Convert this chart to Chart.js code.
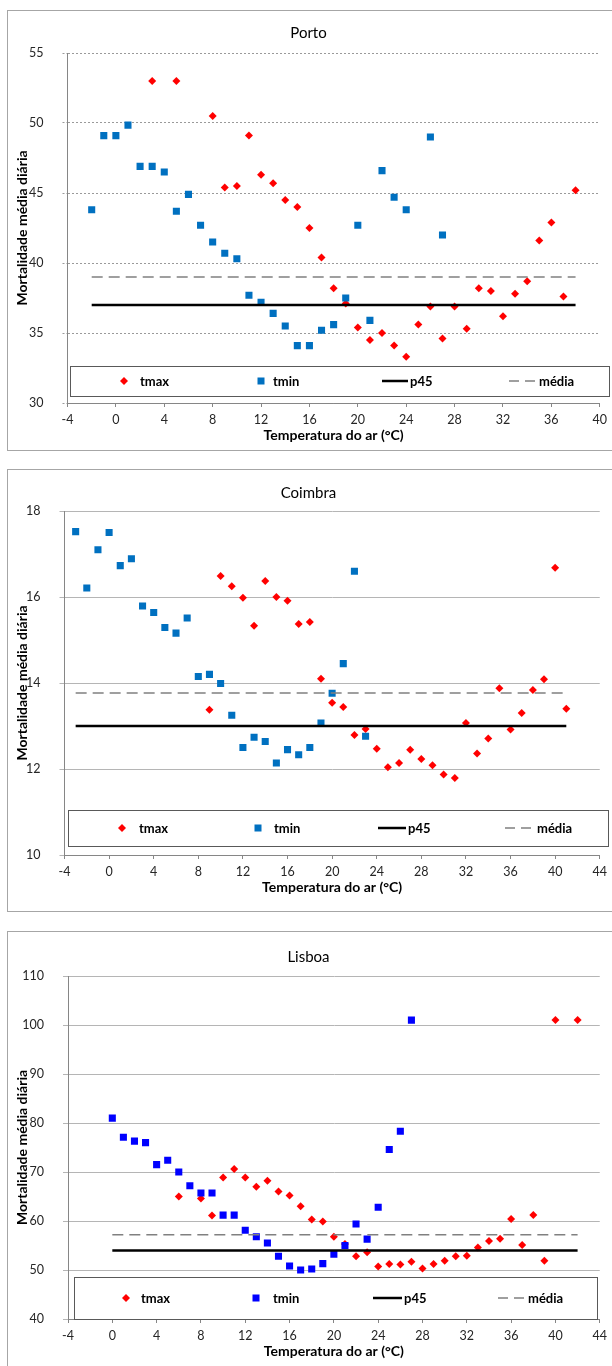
<!DOCTYPE html>
<html>
<head>
<meta charset="utf-8">
<script src="https://cdn.jsdelivr.net/npm/chart.js@4.4.1/dist/chart.umd.min.js"></script>
<style>
  html, body { margin: 0; padding: 0; background: #fff; }
  body { width: 612px; height: 1366px; overflow: hidden; position: relative; }
  .panel { position: absolute; left: 7px; width: 640px; border: 1px solid #a6a6a6; background: #fff; }
  .panel canvas { position: absolute; left: 0; top: 0; }
</style>
</head>
<body>
<div class="panel" style="top:10px;height:439px"><canvas id="cPorto" width="604" height="439"></canvas></div>
<div class="panel" style="top:469px;height:441px"><canvas id="cCoimbra" width="604" height="441"></canvas></div>
<div class="panel" style="top:931px;height:500px"><canvas id="cLisboa" width="604" height="434"></canvas></div>
<script>
// Porto
const portoTmaxTemp = [3, 5, 8, 9, 10, 11, 12, 13, 14, 15, 16, 17, 18, 19, 20, 21, 22, 23, 24, 25, 26, 27, 28, 29, 30, 31, 32, 33, 34, 35, 36, 37, 38];
const portoTmaxMort = [53.0, 53.0, 50.5, 45.4, 45.5, 49.1, 46.3, 45.7, 44.5, 44.0, 42.5, 40.4, 38.2, 37.1, 35.4, 34.5, 35.0, 34.1, 33.3, 35.6, 36.9, 34.6, 36.9, 35.3, 38.2, 38.0, 36.2, 37.8, 38.7, 41.6, 42.9, 37.6, 45.2];
const portoTminTemp = [-2, -1, 0, 1, 2, 3, 4, 5, 6, 7, 8, 9, 10, 11, 12, 13, 14, 15, 16, 17, 18, 19, 20, 21, 22, 23, 24, 26, 27];
const portoTminMort = [43.8, 49.1, 49.1, 49.85, 46.9, 46.9, 46.5, 43.7, 44.9, 42.7, 41.5, 40.7, 40.3, 37.7, 37.2, 36.4, 35.5, 34.1, 34.1, 35.2, 35.6, 37.5, 42.7, 35.9, 46.6, 44.7, 43.8, 49.0, 42.0];
const portoP45 = 37.0;
const portoMedia = 39.0;

// Coimbra
const coimbraTmaxTemp = [9, 10, 11, 12, 13, 14, 15, 16, 17, 18, 19, 20, 21, 22, 23, 24, 25, 26, 27, 28, 29, 30, 31, 32, 33, 34, 35, 36, 37, 38, 39, 40, 41];
const coimbraTmaxMort = [13.38, 16.49, 16.25, 15.98, 15.33, 16.37, 16.0, 15.91, 15.37, 15.42, 14.1, 13.54, 13.44, 12.79, 12.93, 12.47, 12.04, 12.14, 12.45, 12.23, 12.09, 11.87, 11.79, 13.07, 12.36, 12.71, 13.88, 12.92, 13.30, 13.84, 14.09, 16.68, 13.40];
const coimbraTminTemp = [-3, -2, -1, 0, 1, 2, 3, 4, 5, 6, 7, 8, 9, 10, 11, 12, 13, 14, 15, 16, 17, 18, 19, 20, 21, 22, 23];
const coimbraTminMort = [17.52, 16.21, 17.10, 17.50, 16.73, 16.89, 15.79, 15.64, 15.29, 15.16, 15.51, 14.15, 14.2, 13.99, 13.25, 12.50, 12.74, 12.64, 12.14, 12.45, 12.33, 12.50, 13.07, 13.76, 14.45, 16.60, 12.76];
const coimbraP45 = 13.0;
const coimbraMedia = 13.77;

// Lisboa
const lisboaTmaxTemp = [6, 8, 9, 10, 11, 12, 13, 14, 15, 16, 17, 18, 19, 20, 21, 22, 23, 24, 25, 26, 27, 28, 29, 30, 31, 32, 33, 34, 35, 36, 37, 38, 39, 40, 42];
const lisboaTmaxMort = [65.0, 64.6, 61.1, 68.9, 70.6, 68.9, 67.0, 68.2, 66.0, 65.2, 63.0, 60.3, 59.9, 56.8, 55.3, 52.8, 53.6, 50.7, 51.2, 51.1, 51.7, 50.3, 51.2, 51.9, 52.8, 52.9, 54.6, 55.9, 56.4, 60.4, 55.1, 61.2, 51.9, 101.0, 101.0];
const lisboaTminTemp = [0, 1, 2, 3, 4, 5, 6, 7, 8, 9, 10, 11, 12, 13, 14, 15, 16, 17, 18, 19, 20, 21, 22, 23, 24, 25, 26, 27];
const lisboaTminMort = [81.0, 77.1, 76.3, 76.0, 71.5, 72.4, 70.0, 67.2, 65.7, 65.7, 61.2, 61.2, 58.1, 56.8, 55.5, 52.8, 50.8, 50.0, 50.2, 51.3, 53.2, 55.0, 59.4, 56.3, 62.8, 74.6, 78.3, 101.0];
const lisboaP45 = 54.0;
const lisboaMedia = 57.2;

const seriesNames = ['tmax', 'tmin', 'p45', 'média'];
const xTitle = 'Temperatura do ar (°C)';
const yTitle = 'Mortalidade média diária';

Chart.defaults.font.family = 'Lato, "Liberation Sans", sans-serif';
Chart.defaults.color = '#262626';

// legenda desenhada dentro da área do gráfico, com caixa
const legendBox = {
    id: 'legendBox',
    afterDatasetsDraw(chart, args, opts) {
        const ctx = chart.ctx;
        const [x0, y0, x1, y1] = opts.box;
        const cy = (y0 + y1) / 2;
        ctx.save();
        ctx.fillStyle = '#fff';
        ctx.fillRect(x0, y0, x1 - x0, y1 - y0);
        ctx.strokeStyle = '#595959';
        ctx.lineWidth = 1;
        ctx.strokeRect(Math.round(x0) + 0.5, Math.round(y0) + 0.5, Math.round(x1 - x0), Math.round(y1 - y0));

        // tmax
        ctx.fillStyle = '#FF0000';
        ctx.beginPath();
        ctx.moveTo(opts.tmax - 4, cy);
        ctx.lineTo(opts.tmax, cy - 4);
        ctx.lineTo(opts.tmax + 4, cy);
        ctx.lineTo(opts.tmax, cy + 4);
        ctx.closePath();
        ctx.fill();
        // tmin
        ctx.fillStyle = opts.tminColor;
        ctx.fillRect(opts.tmin - 3.5, cy - 3.5, 7, 7);
        // p45
        ctx.strokeStyle = '#000';
        ctx.lineWidth = 2.5;
        ctx.beginPath();
        ctx.moveTo(opts.p45[0], cy);
        ctx.lineTo(opts.p45[1], cy);
        ctx.stroke();
        // média
        ctx.strokeStyle = '#808080';
        ctx.lineWidth = 1.5;
        ctx.setLineDash([10, 6]);
        ctx.beginPath();
        ctx.moveTo(opts.media[0], cy);
        ctx.lineTo(opts.media[1], cy);
        ctx.stroke();
        ctx.setLineDash([]);

        ctx.fillStyle = '#000';
        ctx.font = 'bold 13px Lato, "Liberation Sans", sans-serif';
        ctx.textBaseline = 'middle';
        ctx.textAlign = 'left';
        opts.text.forEach((x, i) => ctx.fillText(seriesNames[i], x, cy + 1));
        ctx.restore();
    }
};

function toPoints(temps, morts) {
    return temps.map((t, i) => ({ x: t, y: morts[i] }));
}

function makeChart(id, c) {
    const lo = Math.min(...c.tminTemp);
    const hi = Math.max(...c.tmaxTemp);
    return new Chart(document.getElementById(id), {
        type: 'scatter',
        data: {
            datasets: [
                {
                    label: seriesNames[0],
                    data: toPoints(c.tmaxTemp, c.tmaxMort),
                    pointStyle: 'rectRot',
                    pointRadius: 4,
                    pointBorderWidth: 0,
                    backgroundColor: '#FF0000',
                    order: 4
                },
                {
                    label: seriesNames[1],
                    data: toPoints(c.tminTemp, c.tminMort),
                    pointStyle: 'rect',
                    pointRadius: 5,
                    pointBorderWidth: 0,
                    backgroundColor: c.tminColor,
                    order: 3
                },
                {
                    label: seriesNames[2],
                    data: [{ x: lo, y: c.p45 }, { x: hi, y: c.p45 }],
                    showLine: true,
                    borderColor: '#000',
                    borderWidth: 2.5,
                    pointRadius: 0,
                    order: 2
                },
                {
                    label: seriesNames[3],
                    data: [{ x: lo, y: c.media }, { x: hi, y: c.media }],
                    showLine: true,
                    borderColor: '#808080',
                    borderWidth: 1.5,
                    borderDash: [11, 6],
                    pointRadius: 0,
                    order: 1
                }
            ]
        },
        options: {
            responsive: false,
            animation: false,
            events: [],
            layout: { padding: { left: 6, right: 9, top: 0, bottom: 0 } },
            plugins: {
                legend: { display: false },
                tooltip: { enabled: false },
                title: {
                    display: true,
                    text: c.title,
                    color: '#000',
                    font: { size: 15, weight: 'normal' },
                    padding: c.titlePad
                },
                legendBox: c.legend
            },
            scales: {
                x: {
                    type: 'linear',
                    min: c.xMin,
                    max: c.xMax,
                    ticks: { stepSize: 4, autoSkip: false, maxRotation: 0, padding: 5, font: { size: 12.5 } },
                    grid: { drawOnChartArea: false, drawTicks: true, tickLength: 4, color: '#868686' },
                    border: { display: true, color: '#868686', width: 1 },
                    title: {
                        display: true,
                        text: xTitle,
                        color: '#000',
                        font: { size: 14, weight: 'bold' },
                        padding: { top: 0, bottom: c.xTitlePad }
                    },
                    afterFit: s => { s.height = c.xHeight; }
                },
                y: {
                    type: 'linear',
                    min: c.yMin,
                    max: c.yMax,
                    ticks: { stepSize: c.yStep, padding: 19, font: { size: 12.5 } },
                    grid: {
                        color: c.gridColor,
                        tickColor: c.gridColor,
                        tickLength: 5,
                        tickBorderDash: c.gridDash
                    },
                    border: { display: true, color: '#868686', width: 1, dash: c.gridDash },
                    title: {
                        display: true,
                        text: yTitle,
                        color: '#000',
                        font: { size: 14, weight: 'bold' },
                        padding: { top: 0, bottom: 0 }
                    },
                    afterFit: s => { s.width = c.yWidth; }
                }
            }
        },
        plugins: [legendBox]
    });
}

makeChart('cPorto', {
    title: 'Porto',
    titlePad: { top: 13, bottom: 11 },
    tmaxTemp: portoTmaxTemp, tmaxMort: portoTmaxMort,
    tminTemp: portoTminTemp, tminMort: portoTminMort,
    p45: portoP45, media: portoMedia,
    tminColor: '#0070C0',
    xMin: -4, xMax: 40, yMin: 30, yMax: 55, yStep: 5,
    gridColor: '#9a9a9a', gridDash: [2, 2],
    xHeight: 47, xTitlePad: 6, yWidth: 53.5,
    legend: { box: [62, 355, 601, 385], tmax: 116, tmin: 253, p45: [374, 400], media: [501, 527], text: [132, 265, 402, 531], tminColor: '#0070C0' }
});

makeChart('cCoimbra', {
    title: 'Coimbra',
    titlePad: { top: 14.5, bottom: 8.5 },
    tmaxTemp: coimbraTmaxTemp, tmaxMort: coimbraTmaxMort,
    tminTemp: coimbraTminTemp, tminMort: coimbraTminMort,
    p45: coimbraP45, media: coimbraMedia,
    tminColor: '#0070C0',
    xMin: -4, xMax: 44, yMin: 10, yMax: 18, yStep: 2,
    gridColor: '#b5b5b5', gridDash: [],
    xHeight: 56, xTitlePad: 15, yWidth: 50.5,
    legend: { box: [60, 340, 600, 376], tmax: 114, tmin: 250, p45: [370, 398], media: [497, 526], text: [131, 266, 400, 529], tminColor: '#0070C0' }
});

makeChart('cLisboa', {
    title: 'Lisboa',
    titlePad: { top: 16, bottom: 10 },
    tmaxTemp: lisboaTmaxTemp, tmaxMort: lisboaTmaxMort,
    tminTemp: lisboaTminTemp, tminMort: lisboaTminMort,
    p45: lisboaP45, media: lisboaMedia,
    tminColor: '#0000FF',
    xMin: -4, xMax: 44, yMin: 40, yMax: 110, yStep: 10,
    gridColor: '#b5b5b5', gridDash: [],
    xHeight: 47, xTitlePad: 6, yWidth: 54,
    legend: { box: [66, 345, 589, 387], tmax: 118, tmin: 248, p45: [365, 394], media: [490, 517], text: [133, 265, 396, 520], tminColor: '#0000FF' }
});
</script>
</body>
</html>
